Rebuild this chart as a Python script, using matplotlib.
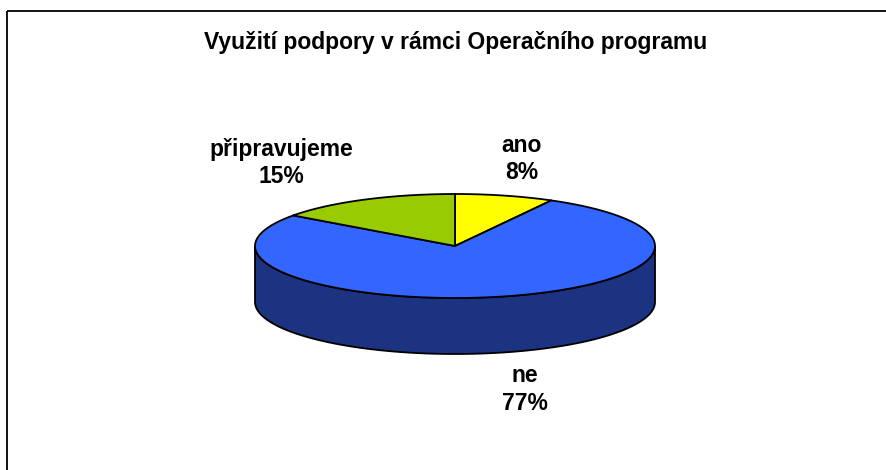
import numpy as np
import matplotlib.pyplot as plt
from matplotlib.patches import Polygon, Rectangle

plt.rcParams['font.family'] = ['Liberation Sans', 'DejaVu Sans']

title = 'Využití podpory v rámci Operačního programu'
categories = ['ano', 'ne', 'připravujeme']
values = [8, 77, 15]
top_colors = ['#FFFF00', '#3366FF', '#99CC00']
side_colors = ['#80800A', '#1B3380', '#4D6600']

# layout in pixels
cx, cy = 455, 246
rx, ry = 200, 52
depth = 56
# (x, baseline of name, baseline of percent)
label_pos = [(522, 152, 179), (525, 382, 410), (281, 156, 183)]


def arc(t1, t2, dy=0, n=120):
    t = np.radians(np.linspace(t1, t2, n))
    return np.column_stack([cx + rx * np.cos(t), cy - ry * np.sin(t) + dy])


fig = plt.figure(figsize=(8.87, 4.70), dpi=100)
ax = fig.add_axes([0, 0, 1, 1])
ax.set_xlim(0, 887)
ax.set_ylim(470, 0)
ax.axis('off')

ax.add_patch(Rectangle((7, 11), 900, 480, fill=False, ec='black', lw=1.3))

total = float(sum(values))
start = 90.0
spans = []
for v in values:
    end = start - 360.0 * v / total
    spans.append((end, start))
    start = end

# side wall (front half only)
for (a2, a1), col in zip(spans, side_colors):
    for k in (-360, 0, 360):
        lo = max(a2, 180 + k)
        hi = min(a1, 360 + k)
        if hi > lo:
            pts = np.vstack([arc(lo, hi), arc(hi, lo, depth)])
            ax.add_patch(Polygon(pts, closed=True, fc=col, ec='black', lw=1.3))

# top face
for (a2, a1), col in zip(spans, top_colors):
    pts = np.vstack([[cx, cy], arc(a1, a2)])
    ax.add_patch(Polygon(pts, closed=True, fc=col, ec='black', lw=1.3, joinstyle='round'))

ax.text(456, 48.5, title, ha='center', va='baseline', fontsize=16.5, fontweight='bold')
for name, v, (x, y1, y2) in zip(categories, values, label_pos):
    ax.text(x, y1, name, ha='center', va='baseline', fontsize=16.5, fontweight='bold')
    ax.text(x, y2, f'{v}%', ha='center', va='baseline', fontsize=16.5, fontweight='bold')

fig.savefig('out.png', dpi=100)
